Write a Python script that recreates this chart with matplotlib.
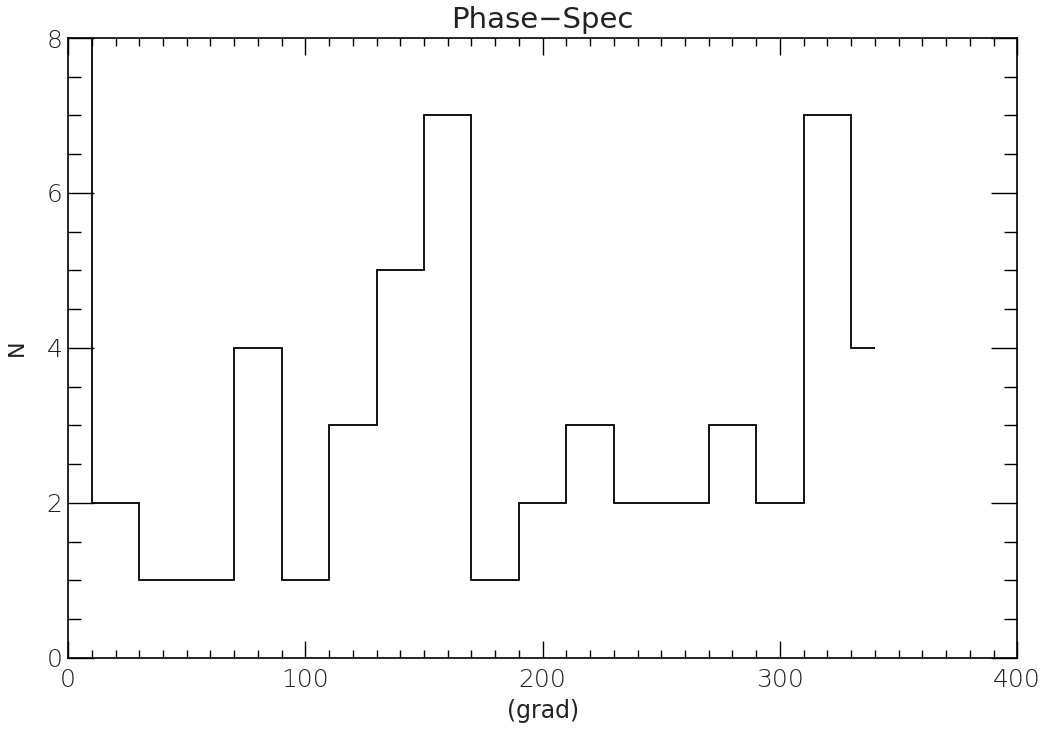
import matplotlib
matplotlib.use("Agg")
import matplotlib.pyplot as plt
from matplotlib.ticker import MultipleLocator
import numpy as np

# histogram bin centres (grad) and counts
phase_centers = [0, 20, 40, 60, 80, 100, 120, 140, 160, 180,
                 200, 220, 240, 260, 280, 300, 320, 340]
counts = [8, 2, 1, 1, 4, 1, 3, 5, 7, 1, 2, 3, 2, 2, 3, 2, 7, 4]

plt.rcParams['font.family'] = ['DejaVu Sans']
plt.rcParams['font.weight'] = 'light'

c = np.array(phase_centers, dtype=float)
# IDL psym=10 style: steps centred on the points, half bins at the ends
edges = np.concatenate([[c[0]], (c[:-1] + c[1:]) / 2, [c[-1]]])

fig = plt.figure(figsize=(10.5, 7.31), dpi=100)
ax = fig.add_axes([0.0648, 0.1, 0.904, 0.848])
ax.stairs(counts, edges, baseline=None, color='black', linewidth=1.3)

ax.set_xlim(0, 400)
ax.set_ylim(0, 8)
ax.xaxis.set_major_locator(MultipleLocator(100))
ax.xaxis.set_minor_locator(MultipleLocator(10))
ax.yaxis.set_major_locator(MultipleLocator(2))
ax.yaxis.set_minor_locator(MultipleLocator(0.5))

ax.tick_params(axis='both', which='both', direction='in', top=True, right=True,
               labelsize=18, width=1, colors='black', labelcolor='#222222')
ax.tick_params(axis='x', which='major', length=12, pad=7)
ax.tick_params(axis='x', which='minor', length=6)
ax.tick_params(axis='y', which='major', length=19, pad=4)
ax.tick_params(axis='y', which='minor', length=9.5)
for s in ax.spines.values():
    s.set_linewidth(1.2)

ax.set_title('Phase\u2212Spec', fontsize=21, pad=7, color='#222222')
ax.set_xlabel('(grad)', fontsize=17, labelpad=5, color='#222222')
ax.set_ylabel('N', fontsize=16, labelpad=14, color='#222222')

fig.savefig('out.png', dpi=100)
